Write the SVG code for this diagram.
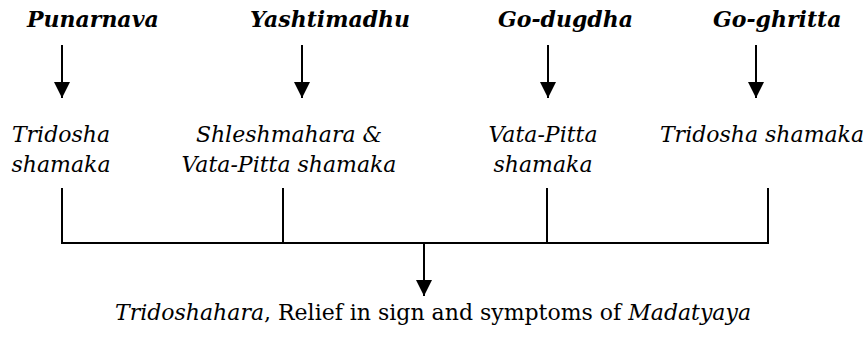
<svg xmlns="http://www.w3.org/2000/svg" width="866" height="338" viewBox="0 0 866 338">
<defs>
<style>
text{font-family:"DejaVu Serif","Liberation Serif",serif;font-size:22px;fill:#000}
.b{font-weight:bold;font-style:italic}
.i{font-style:italic}
.ln{stroke:#000;stroke-width:2;fill:none}
</style>
<marker id="ah" markerWidth="8" markerHeight="8" refX="8" refY="4" orient="auto" markerUnits="strokeWidth" viewBox="0 0 8 8">
<path d="M0,0 L8,4 L0,8 Z" fill="#000"/>
</marker>
</defs>
<rect width="866" height="338" fill="#fff"/>
<g id="n-punarnava"><text class="b" x="27" y="27">Punarnava</text></g>
<g id="n-yashtimadhu"><text class="b" x="250" y="27">Yashtimadhu</text></g>
<g id="n-godugdha"><text class="b" x="498" y="27">Go-dugdha</text></g>
<g id="n-goghritta"><text class="b" x="713" y="27">Go-ghritta</text></g>
<g id="n-e1"><text class="i" text-anchor="middle" x="61" y="142">Tridosha</text><text class="i" text-anchor="middle" x="61" y="172">shamaka</text></g>
<g id="n-e2"><text class="i" text-anchor="middle" x="289" y="142">Shleshmahara &amp;</text><text class="i" text-anchor="middle" x="289" y="172">Vata-Pitta shamaka</text></g>
<g id="n-e3"><text class="i" text-anchor="middle" x="543" y="142">Vata-Pitta</text><text class="i" text-anchor="middle" x="543" y="172">shamaka</text></g>
<g id="n-e4"><text class="i" text-anchor="middle" x="762" y="142">Tridosha shamaka</text></g>
<g id="n-result"><text text-anchor="middle" x="433" y="320"><tspan class="i">Tridoshahara</tspan>, Relief in sign and symptoms of <tspan class="i">Madatyaya</tspan></text></g>
<g id="connectors">
<line class="ln" x1="62" y1="45" x2="62" y2="98" marker-end="url(#ah)"/>
<line class="ln" x1="302" y1="45" x2="302" y2="98" marker-end="url(#ah)"/>
<line class="ln" x1="548" y1="45" x2="548" y2="98" marker-end="url(#ah)"/>
<line class="ln" x1="756" y1="45" x2="756" y2="98" marker-end="url(#ah)"/>
<path class="ln" d="M62,188 V243 H768 V188 M283,188 V243 M547,188 V243"/>
<line class="ln" x1="424" y1="243" x2="424" y2="296" marker-end="url(#ah)"/>
</g>
</svg>
